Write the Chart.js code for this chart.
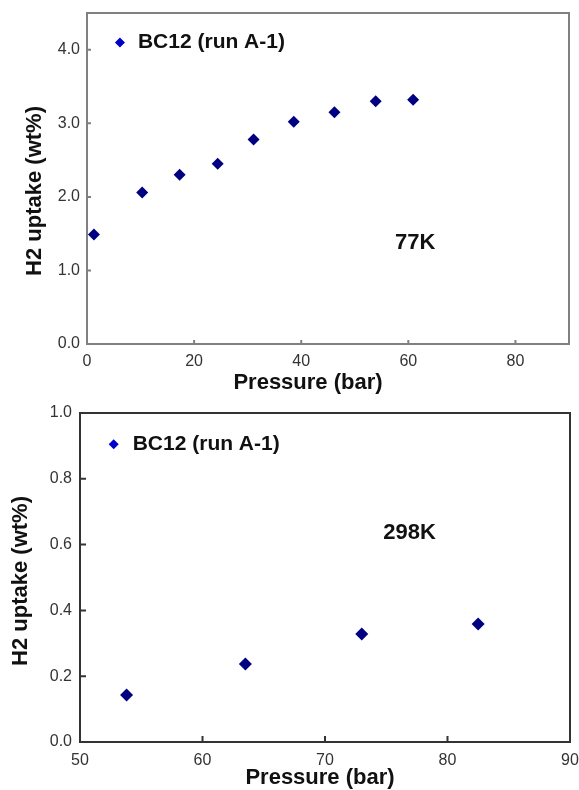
<!DOCTYPE html>
<html>
<head>
<meta charset="utf-8">
<script src="https://cdn.jsdelivr.net/npm/chart.js@4.4.1/dist/chart.umd.min.js"></script>
<style>
  html, body { margin: 0; padding: 0; background: #fff; }
  .box { position: absolute; left: 0; width: 579px; }
</style>
</head>
<body>
<div class="box" style="top:0;height:400px"><canvas id="c77" width="579" height="400"></canvas></div>
<div class="box" style="top:400px;height:390px"><canvas id="c298" width="579" height="390"></canvas></div>
<script>
// data
const seriesLabel = 'BC12 (run A-1)';
const xTitle = 'Pressure (bar)';
const yTitle = 'H2 uptake (wt%)';
const pressure77 = [1.3, 10.3, 17.3, 24.4, 31.1, 38.6, 46.2, 53.9, 60.9];
const uptake77 = [1.49, 2.06, 2.30, 2.45, 2.78, 3.02, 3.15, 3.30, 3.32];
const pressure298 = [53.8, 63.5, 73.0, 82.5];
const uptake298 = [0.143, 0.237, 0.328, 0.359];

Chart.defaults.font.family = "'Liberation Sans', Arial, sans-serif";
Chart.defaults.plugins.legend.display = false;
Chart.defaults.plugins.tooltip.enabled = false;
Chart.defaults.animation = false;

const FAM = "'Liberation Sans', Arial, sans-serif";

// frame, inward tick marks, axis titles, legend and temperature note
const framePlugin = {
    id: 'frame',
    afterDraw(chart, args, o) {
        const {ctx, chartArea: a, scales: {x, y}} = chart;
        ctx.save();
        ctx.strokeStyle = o.color;
        ctx.lineWidth = o.width;
        ctx.strokeRect(a.left, a.top, a.right - a.left, a.bottom - a.top);

        ctx.beginPath();
        x.ticks.forEach(t => {
            const px = x.getPixelForValue(t.value);
            ctx.moveTo(px, a.bottom);
            ctx.lineTo(px, a.bottom - o.tick);
        });
        y.ticks.forEach(t => {
            const py = y.getPixelForValue(t.value);
            ctx.moveTo(a.left, py);
            ctx.lineTo(a.left + o.tick, py);
        });
        ctx.stroke();

        ctx.fillStyle = '#111';
        ctx.textBaseline = 'middle';
        ctx.textAlign = 'center';
        ctx.font = 'bold 22px ' + FAM;
        // axis titles
        ctx.fillText(xTitle, o.xTitleAt[0], o.xTitleAt[1]);
        ctx.save();
        ctx.translate(o.yTitleAt[0], o.yTitleAt[1]);
        ctx.rotate(-Math.PI / 2);
        ctx.fillText(yTitle, 0, 0);
        ctx.restore();

        // temperature note
        ctx.fillText(o.note, x.getPixelForValue(o.noteAt[0]), y.getPixelForValue(o.noteAt[1]));

        // legend entry
        const lx = x.getPixelForValue(o.legendAt[0]);
        const ly = y.getPixelForValue(o.legendAt[1]);
        ctx.fillStyle = '#0000c8';
        ctx.beginPath();
        ctx.moveTo(lx, ly - 5);
        ctx.lineTo(lx + 5, ly);
        ctx.lineTo(lx, ly + 5);
        ctx.lineTo(lx - 5, ly);
        ctx.closePath();
        ctx.fill();
        ctx.fillStyle = '#111';
        ctx.font = 'bold 21px ' + FAM;
        ctx.textAlign = 'left';
        ctx.fillText(chart.data.datasets[0].label, lx + o.legendGap, ly);
        ctx.restore();
    }
};

const makeChart = (id, px, py, opt) => {
    const ctx = document.getElementById(id).getContext('2d');
    new Chart(ctx, {
        type: 'scatter',
        data: {
            datasets: [{
                label: seriesLabel,
                data: px.map((v, i) => ({x: v, y: py[i]})),
                pointStyle: 'rectRot',
                pointRadius: opt.radius,
                backgroundColor: '#000080',
                borderColor: '#000080',
                borderWidth: 0
            }]
        },
        options: {
            responsive: false,
            layout: { padding: { left: 0, top: opt.padTop, right: opt.padRight, bottom: 0 } },
            scales: {
                x: {
                    type: 'linear',
                    min: opt.xMin, max: opt.xMax,
                    afterFit: s => { s.height = opt.xHeight; s.paddingLeft = 0; s.paddingRight = 0; },
                    grid: { display: false, drawTicks: false },
                    border: { display: false },
                    ticks: {
                        stepSize: opt.xStep, includeBounds: false,
                        padding: opt.xTickPad, color: '#333',
                        font: { size: 16 },
                        maxRotation: 0
                    }
                },
                y: {
                    min: 0, max: opt.yMax,
                    afterFit: s => { s.width = opt.yWidth; s.paddingTop = 0; s.paddingBottom = 0; },
                    grid: { display: false, drawTicks: false },
                    border: { display: false },
                    ticks: {
                        stepSize: opt.yStep, includeBounds: false,
                        padding: opt.yTickPad, color: '#333',
                        font: { size: 16 },
                        callback: v => Number(v).toFixed(1)
                    }
                }
            },
            plugins: {
                frame: {
                    color: opt.frameColor, width: 2, tick: opt.tick,
                    legendAt: opt.legendAt, legendGap: opt.legendGap,
                    note: opt.note, noteAt: opt.noteAt,
                    xTitleAt: opt.xTitleAt, yTitleAt: opt.yTitleAt
                }
            }
        },
        plugins: [framePlugin]
    });
};

makeChart('c77', pressure77, uptake77, {
    radius: 6, padTop: 13, padRight: 10,
    xMin: 0, xMax: 90, xStep: 20, xHeight: 56, xTickPad: 8,
    yMax: 4.5, yStep: 1, yWidth: 87, yTickPad: 7,
    frameColor: '#808080', tick: 4,
    legendAt: [6.15, 4.1], legendGap: 18,
    note: '77K', noteAt: [61.3, 1.37],
    xTitleAt: [308, 383], yTitleAt: [35, 191]
});

makeChart('c298', pressure298, uptake298, {
    radius: 6.5, padTop: 13, padRight: 9,
    xMin: 50, xMax: 90, xStep: 10, xHeight: 48, xTickPad: 9,
    yMax: 1.0, yStep: 0.2, yWidth: 80, yTickPad: 8,
    frameColor: '#333', tick: 6,
    legendAt: [52.75, 0.905], legendGap: 19,
    note: '298K', noteAt: [76.9, 0.635],
    xTitleAt: [320, 378], yTitleAt: [21, 181]
});
</script>
</body>
</html>
